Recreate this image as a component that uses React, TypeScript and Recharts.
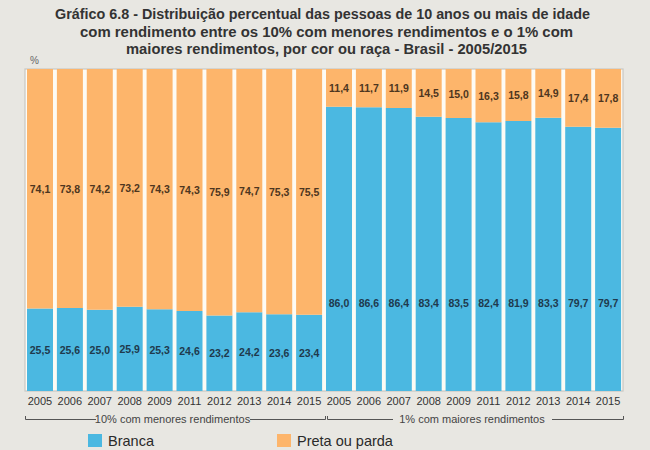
import { Bar, BarChart, LabelList, XAxis, YAxis } from 'recharts';

const years = ['2005', '2006', '2007', '2008', '2009', '2011', '2012', '2013', '2014', '2015'];

// 10% com menores rendimentos
const brancaMenores = [25.5, 25.6, 25.0, 25.9, 25.3, 24.6, 23.2, 24.2, 23.6, 23.4];
const pretaMenores = [74.1, 73.8, 74.2, 73.2, 74.3, 74.3, 75.9, 74.7, 75.3, 75.5];

// 1% com maiores rendimentos
const brancaMaiores = [86.0, 86.6, 86.4, 83.4, 83.5, 82.4, 81.9, 83.3, 79.7, 79.7];
const pretaMaiores = [11.4, 11.7, 11.9, 14.5, 15.0, 16.3, 15.8, 14.9, 17.4, 17.8];

const groupLabels = ['10% com menores rendimentos', '1% com maiores rendimentos'];
const seriesNames = ['Branca', 'Preta ou parda'];

const titleLines = [
  'Gráfico 6.8 - Distribuição percentual das pessoas de 10 anos ou mais de idade',
  'com rendimento entre os 10%  com menores rendimentos e o 1% com',
  'maiores rendimentos, por cor ou raça - Brasil - 2005/2015',
];

const rows = [
  ...years.map((year, i) => ({ id: `a-${year}`, year, branca: brancaMenores[i], preta: pretaMenores[i] })),
  ...years.map((year, i) => ({ id: `b-${year}`, year, branca: brancaMaiores[i], preta: pretaMaiores[i] })),
];

const BLUE = '#4bb8e1';
const ORANGE = '#fdb56b';

const fmt = (v: number) => v.toFixed(1).replace('.', ',');

function BrancaLabel(props: any) {
  const { x, y, width, height, index } = props;
  const cy = index < years.length ? y + height / 2 : y + height - 88;
  return (
    <text x={x + width / 2} y={cy} dy={4} textAnchor="middle" fontSize={10.5} fontWeight="bold" fill="#1f3a4d">
      {fmt(rows[index].branca)}
    </text>
  );
}

function PretaLabel(props: any) {
  const { x, y, width, height, index } = props;
  return (
    <text x={x + width / 2} y={y + height / 2} dy={4} textAnchor="middle" fontSize={10.5} fontWeight="bold" fill="#4d3620">
      {fmt(rows[index].preta)}
    </text>
  );
}

// title is condensed: squeeze horizontally, then fix final width
const titleScale = 0.82;
const titleWidths = [535, 493, 401];
const titleCenters = [322.5, 326.5, 326.5];

export default function App() {
  return (
    <div
      style={{
        position: 'absolute',
        left: 0,
        top: 0,
        width: 650,
        height: 450,
        background: '#e8e7e2',
        fontFamily: "'Liberation Sans', Arial, sans-serif",
      }}
    >
      <svg width={650} height={450} style={{ position: 'absolute', left: 0, top: 0 }}>
        {titleLines.map((line, i) => (
          <g key={i} transform={`translate(${titleCenters[i]}, ${19 + i * 17.5}) scale(${titleScale}, 1)`}>
            <text
              x={0}
              y={0}
              textAnchor="middle"
              fontSize={15.5}
              fontWeight="bold"
              fill="#333"
              textLength={titleWidths[i] / titleScale}
              lengthAdjust="spacingAndGlyphs"
            >
              {line}
            </text>
          </g>
        ))}
        <text x={30} y={64} fontSize={10} fill="#666">%</text>
        <rect x={25} y={69} width={598} height={322} fill="#fdfbf4" stroke="#c8c7c2" strokeWidth={1.2} />

        <g stroke="#555" strokeWidth={1} fill="none">
          <path d="M25.5 416 V419.5 H96" />
          <path d="M250 419.5 H325.5 V416" />
          <path d="M327.5 416 V419.5 H393" />
          <path d="M552 419.5 H623.5 V416" />
        </g>
        <text x={172.5} y={423} textAnchor="middle" fontSize={11} fill="#444">{groupLabels[0]}</text>
        <text x={472} y={423} textAnchor="middle" fontSize={11} fill="#444">{groupLabels[1]}</text>

        <rect x={88} y={434} width={14} height={13} fill={BLUE} />
        <text x={108} y={445.5} fontSize={14.5} fill="#2a2a2a">{seriesNames[0]}</text>
        <rect x={277} y={434} width={14} height={13} fill={ORANGE} />
        <text x={297} y={445.5} fontSize={14.5} fill="#2a2a2a">{seriesNames[1]}</text>
      </svg>

      <BarChart
        width={650}
        height={450}
        data={rows}
        stackOffset="expand"
        barCategoryGap={2}
        margin={{ top: 69, right: 27, left: 25, bottom: 0 }}
        style={{ position: 'absolute', left: 0, top: 0 }}
      >
        <XAxis
          dataKey="id"
          interval={0}
          height={59}
          axisLine={false}
          tickLine={false}
          tickSize={0}
          tickMargin={6}
          tickFormatter={(v: string) => v.split('-')[1]}
          tick={{ fontSize: 11, fill: '#333' }}
        />
        <YAxis hide domain={[0, 1]} />
        <Bar dataKey="branca" name={seriesNames[0]} stackId="a" fill={BLUE} isAnimationActive={false}>
          <LabelList dataKey="branca" content={BrancaLabel} />
        </Bar>
        <Bar dataKey="preta" name={seriesNames[1]} stackId="a" fill={ORANGE} isAnimationActive={false}>
          <LabelList dataKey="preta" content={PretaLabel} />
        </Bar>
      </BarChart>
    </div>
  );
}
